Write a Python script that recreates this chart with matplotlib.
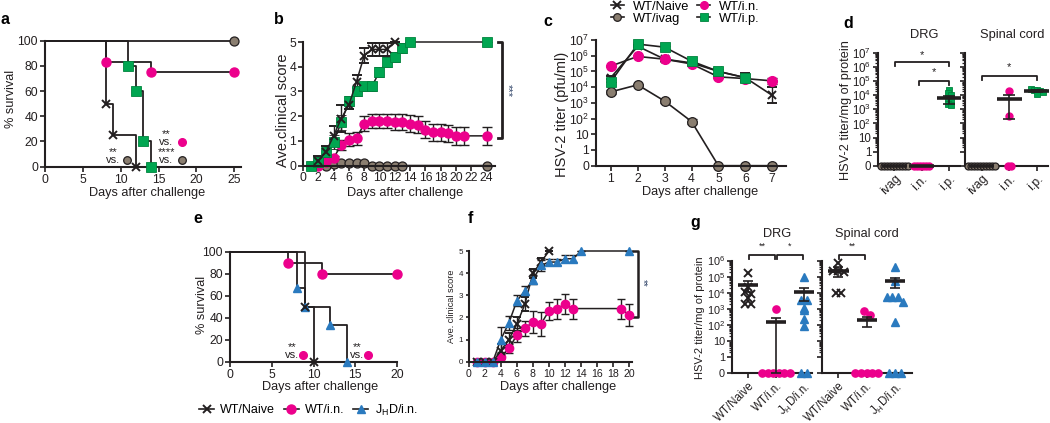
import numpy as np
import matplotlib
matplotlib.use("Agg")
import matplotlib.pyplot as plt
from matplotlib.lines import Line2D
from matplotlib.ticker import FixedLocator

plt.rcParams['font.family'] = ['Liberation Sans', 'DejaVu Sans']
plt.rcParams['mathtext.fontset'] = 'custom'
plt.rcParams['mathtext.rm'] = 'Liberation Sans'
plt.rcParams['mathtext.it'] = 'Liberation Sans:italic'
plt.rcParams['mathtext.bf'] = 'Liberation Sans:bold'

W, H = 1050, 423
INK = '#231f20'
PINK = '#ec008c'
GREEN = '#00a651'
GREY = '#8a7e70'
BLUE = '#2a7abf'

# ---------------- data ----------------
# a: survival after challenge (day of drop, % survival)
a_naive_day = [0, 8, 9, 12]
a_naive_pct = [100, 50, 25, 0]
a_ivag_day = [0, 25]
a_ivag_pct = [100, 100]
a_in_day = [0, 8, 14, 25]
a_in_pct = [100, 83.3, 75, 75]
a_ip_day = [0, 11, 12, 13, 14]
a_ip_pct = [100, 80, 60, 20, 0]

# b: average clinical score (mean, sem)
b_naive_day = list(range(2, 13))
b_naive = [0.2, 0.55, 1.2, 1.9, 2.45, 3.4, 4.45, 4.7, 4.7, 4.7, 5.0]
b_naive_sem = [0.2, 0.25, 0.4, 0.55, 0.15, 0.27, 0.3, 0.25, 0.25, 0.25, 0]
b_ivag_day = list(range(3, 14)) + [24]
b_ivag = [0, 0.07, 0.1, 0.1, 0.1, 0.1, 0, 0, 0, 0, 0, 0]
b_in_day = list(range(2, 22)) + [24]
b_in = [0, 0.14, 0.3, 0.84, 1.05, 1.1, 1.7, 1.8, 1.8, 1.8, 1.75, 1.75, 1.7,
        1.65, 1.45, 1.35, 1.35, 1.3, 1.2, 1.2, 1.2]
b_in_sem = [0, 0, 0.1, 0.2, 0.25, 0.25, 0.3, 0.3, 0.3, 0.3, 0.32, 0.32, 0.35,
            0.35, 0.35, 0.35, 0.35, 0.35, 0.35, 0.35, 0.37]
b_ip_day = list(range(1, 15)) + [24]
b_ip = [0, 0.15, 0.55, 0.95, 1.75, 2.6, 3.0, 3.2, 3.2, 3.8, 4.2, 4.4, 4.75, 5.0, 5.0]
b_ip_sem = [0, 0.2, 0.25, 0.3, 0.3, 0.2, 0.2, 0.2, 0.2, 0.2, 0.2, 0.2, 0.2, 0, 0]

# c: vaginal HSV-2 titer (pfu/ml), error as log10 half-width
c_day = [1, 2, 3, 4, 5, 6, 7]
c_naive = [4e4, 4e6, 6e5, 3.5e5, 1e5, 4e4, 3e3]
c_naive_err = [0.1, 0.05, 0.1, 0.1, 0.15, 0.3, 0.5]
c_ivag = [5e3, 1.4e4, 1.3e3, 65, 0, 0, 0]
c_ivag_err = [0.15, 0.05, 0.15, 0.15, 0, 0, 0]
c_in = [2.2e5, 9e5, 6e5, 3e5, 4.5e4, 3.5e4, 2.5e4]
c_in_err = [0, 0, 0.1, 0.1, 0.1, 0.1, 0.2]
c_ip_day = [1, 2, 3, 4, 5, 6]
c_ip = [2.2e4, 5.5e6, 3.5e6, 4.5e5, 1e5, 4e4]
c_ip_err = [0, 0.05, 0.1, 0.1, 0.15, 0.25]

# d: titer per mg protein, individual mice + mean/sem
d_groups = ['ivag', 'i.n.', 'i.p.']
d_drg_ivag = [0] * 10
d_drg_in = [0] * 6
d_drg_ip = [2.5e4, 1.5e4, 1.0e4, 6e3, 4e3, 2.5e3, 2e3]
d_drg_mean = [0, 0, 6e3]
d_drg_sem = [0, 0, 3.5e3]
d_sc_ivag = [0] * 10
d_sc_in = [2e4, 350, 0, 0]
d_sc_ip = [3e4, 2.5e4, 2.2e4, 2e4, 1.6e4, 1.2e4]
d_sc_mean = [0, 5.1e3, 2.1e4]
d_sc_sem = [0, 4.9e3, 3e3]

# e: survival
e_naive_day = [0, 9, 10]
e_naive_pct = [100, 50, 0]
e_in_day = [0, 7, 11, 20]
e_in_pct = [100, 90, 80, 80]
e_jhd_day = [0, 8, 9, 12, 14]
e_jhd_pct = [100, 66.7, 50, 33.3, 0]

# f: clinical score
f_naive_day = [1, 2, 3, 4, 5, 6, 7, 8, 9, 10]
f_naive = [0, 0, 0, 0.5, 1.0, 1.7, 2.6, 4.0, 4.5, 5.0]
f_naive_sem = [0, 0, 0, 0.3, 0.3, 0.3, 0.3, 0.2, 0.2, 0]
f_in_day = [1, 2, 3, 4, 5, 6, 7, 8, 9, 10, 11, 12, 13, 19, 20]
f_in = [0, 0, 0, 0.2, 0.6, 1.2, 1.5, 1.8, 1.7, 2.3, 2.4, 2.6, 2.4, 2.4, 2.1]
f_in_sem = [0, 0, 0, 0.1, 0.2, 0.3, 0.35, 0.5, 0.55, 0.4, 0.45, 0.45, 0.45, 0.45, 0.5]
f_jhd_day = [1, 2, 3, 4, 5, 6, 7, 8, 9, 10, 11, 12, 13, 14, 20]
f_jhd = [0, 0, 0, 1.0, 1.75, 2.75, 3.2, 3.7, 4.35, 4.5, 4.5, 4.65, 4.65, 5.0, 5.0]
f_jhd_sem = [0, 0, 0, 0.55, 0.3, 0.25, 0.2, 0.2, 0.25, 0.15, 0.15, 0.15, 0.15, 0, 0]

# g: titer per mg protein
g_groups = ['WT/Naive', 'WT/i.n.', r'J$_{\mathrm{H}}$D/i.n.']
g_drg_naive = [1.6e5, 2.4e4, 1.2e4, 9e3, 4.8e3, 2.1e3, 2.1e3]
g_drg_in = [1e3, 0, 0, 0, 0, 0, 0]
g_drg_jhd = [1e5, 3.6e3, 3.6e3, 1.1e3, 850, 235, 91, 0, 0]
g_drg_mean = [3.2e4, 143, 1.1e4]
g_drg_sem = [2e4, 143, 8e3]
g_sc_naive = [7.4e5, 2.3e5, 2.3e5, 2e5, 1e4, 1e4]
g_sc_in = [775, 420, 0, 0, 0, 0, 0]
g_sc_jhd = [4.2e5, 5.6e4, 5.7e3, 5.7e3, 5.7e3, 2.6e3, 160, 0, 0, 0]
g_sc_mean = [2.4e5, 200, 5.2e4]
g_sc_sem = [1.4e5, 120, 3.3e4]

titer_ticks = [0, 1, 10, 1e2, 1e3, 1e4, 1e5, 1e6, 1e7]
titer_labels = ['0', '1', '10'] + [r'$\mathregular{10^{%d}}$' % k for k in range(2, 8)]

# ---------------- helpers ----------------
fig = plt.figure(figsize=(W / 100, H / 100), dpi=100)


def add_ax(l, t, r, b):
    ax = fig.add_axes([l / W, 1 - b / H, (r - l) / W, (b - t) / H])
    for s in ['top', 'right']:
        ax.spines[s].set_visible(False)
    for s in ['left', 'bottom']:
        ax.spines[s].set_linewidth(1.5)
        ax.spines[s].set_color(INK)
    ax.tick_params(direction='out', length=3.5, width=1.2, color=INK,
                   labelcolor=INK, labelsize=8.8, pad=1.5)
    ax.patch.set_alpha(0)
    return ax


def ylab(ax, text, x, y, size=9.2):
    pos = ax.get_position()
    ax.set_ylabel(text, fontsize=size, va='center', color=INK)
    ax.yaxis.set_label_coords((x / W - pos.x0) / pos.width,
                              ((1 - y / H) - pos.y0) / pos.height)


def xlab(ax, text, x, y, size=9.2):
    pos = ax.get_position()
    ax.set_xlabel(text, fontsize=size, va='center', color=INK)
    ax.xaxis.set_label_coords((x / W - pos.x0) / pos.width,
                              ((1 - y / H) - pos.y0) / pos.height)


def letter(x, y, s):
    fig.text(x / W, 1 - y / H, s, fontsize=11.5, fontweight='bold',
             ha='center', va='center', color='black')


def unclip(container):
    for art in container.get_children():
        art.set_clip_on(False)


def km(ax, day, pct, **mk):
    ax.step(day, pct, where='post', color=INK, lw=1.3, clip_on=False, zorder=2)
    ax.plot(day[1:], pct[1:], ls='none', clip_on=False, zorder=3, **mk)


def versus(ax, x, y, stars, cx, cy, mk):
    # significance note: stars stacked over "vs." and a group symbol
    ax.text(x, y, stars + '\nvs.', ha='center', va='center', fontsize=8,
            linespacing=0.8, color=INK)
    ax.plot([cx], [cy], ls='none', clip_on=False, **dict(mk, ms=5.5))


def score(ax, day, val, sem, cap=3.5, **mk):
    c = ax.errorbar(day, val, yerr=sem, color=INK, lw=1.1, elinewidth=1.0,
                    capsize=cap, capthick=1.0, **mk)
    unclip(c)
    return c


def titer(ax, day, val, err, **mk):
    val = np.asarray(val, float)
    err = np.asarray(err, float)
    lo = val - val / 10 ** err
    hi = val * 10 ** err - val
    c = ax.errorbar(day, val, yerr=[lo, hi], color=INK, lw=1.2, elinewidth=1.0,
                    capsize=3.5, capthick=1.0, **mk)
    unclip(c)
    return c


def titer_axis(ax, top, labels=True, size=8.3):
    ax.set_yscale('symlog', linthresh=1, linscale=0.9)
    ax.set_ylim(0, top)
    ticks = [t for t in titer_ticks if t <= top]
    ax.set_yticks(ticks)
    if labels:
        ax.set_yticklabels(titer_labels[:len(ticks)], fontsize=size)
    else:
        ax.set_yticklabels([])


def minor_log(ax, top):
    mins = [m * 10 ** k for k in range(0, 8) for m in range(2, 10) if m * 10 ** k < top]
    ax.yaxis.set_minor_locator(FixedLocator(mins))
    ax.tick_params(axis='y', which='minor', length=2, width=0.9, color=INK)


def strip(ax, pos, vals, mean, sem, half, step, capsize, **mk):
    vals = np.asarray(vals, float)
    safe = np.where(vals > 0, vals, 1.0)
    keys = np.where(vals > 0, np.round(np.log10(safe) * 2.5), -99)
    xs = np.zeros(len(vals))
    for k in np.unique(keys):
        idx = np.where(keys == k)[0]
        xs[idx] = pos + (np.arange(len(idx)) - (len(idx) - 1) / 2) * step
    ax.plot(xs, vals, ls='none', clip_on=False, zorder=3, **mk)
    ax.plot([pos - half, pos + half], [mean, mean], color=INK, lw=2.6,
            solid_capstyle='butt', zorder=4, clip_on=False)
    if sem > 0:
        c = ax.errorbar([pos], [mean], yerr=[[min(sem, mean)], [sem]], fmt='none',
                        ecolor=INK, elinewidth=1.2, capsize=capsize, capthick=1.2,
                        zorder=4)
        unclip(c)


def bracket(ax, x1, x2, y, ytick, text, ytext, size=8):
    ax.plot([x1, x1, x2, x2], [ytick, y, y, ytick], color=INK, lw=1.3,
            clip_on=False, zorder=5)
    ax.text((x1 + x2) / 2, ytext, text, ha='center', va='center',
            fontsize=size, color=INK, clip_on=False)


naive_mk = dict(marker='x', mfc=INK, mec=INK, ms=6, mew=1.4)
ivag_mk = dict(marker='o', mfc=GREY, mec=INK, ms=6.5, mew=0.9)
in_mk = dict(marker='o', mfc=PINK, mec=PINK, ms=6.5)
ip_mk = dict(marker='s', mfc=GREEN, mec='#00843d', ms=6.5, mew=0.6)
jhd_mk = dict(marker='^', mfc=BLUE, mec=BLUE, ms=6)

# ---------------- panel a ----------------
ax = add_ax(45, 40.7, 241, 166.7)
ax.set_xlim(0, 25.9)
ax.set_ylim(0, 100)
km(ax, a_ivag_day, a_ivag_pct, **ivag_mk)
km(ax, a_in_day, a_in_pct, **in_mk)
km(ax, a_ip_day, a_ip_pct, **ip_mk)
km(ax, a_naive_day, a_naive_pct, **naive_mk)
ax.set_xticks([0, 5, 10, 15, 20, 25])
ax.set_yticks([0, 20, 40, 60, 80, 100])
ylab(ax, '% survival', 11, 99)
xlab(ax, 'Days after challenge', 147, 193)
versus(ax, 9.0, 8.5, '**', 10.8, 5.3, ivag_mk)
versus(ax, 16.0, 22.8, '**', 18.1, 19.6, in_mk)
versus(ax, 16.0, 8.5, '****', 18.1, 5.3, ivag_mk)
letter(5, 20, 'a')

# ---------------- panel b ----------------
ax = add_ax(303, 42, 495, 165.5)
ax.set_xlim(0, 25.1)
ax.set_ylim(0, 5)
score(ax, b_ivag_day, b_ivag, None, **ivag_mk)
score(ax, b_in_day, b_in, b_in_sem, **in_mk)
score(ax, b_ip_day, b_ip, b_ip_sem, **ip_mk)
score(ax, b_naive_day, b_naive, b_naive_sem, **naive_mk)
ax.set_xticks(range(0, 25, 2))
ax.set_yticks(range(0, 6))
ylab(ax, 'Ave.clinical score', 283, 110, size=10.5)
xlab(ax, 'Days after challenge', 405, 193)
ax.plot([25.5, 26.0, 26.0, 25.5], [5, 5, 1.13, 1.13], color=INK, lw=2,
        clip_on=False)
ax.text(26.8, 3.05, '***', rotation=270, ha='center', va='center', fontsize=8,
        color='#33476b', clip_on=False)
letter(279, 20, 'b')

# ---------------- panel c ----------------
ax = add_ax(596, 40, 785.7, 165.7)
ax.set_xlim(0.45, 7.5)
titer_axis(ax, 1e7, size=8.8)
titer(ax, c_day, c_naive, c_naive_err, **naive_mk)
titer(ax, c_day, c_ivag, c_ivag_err, **dict(ivag_mk, ms=7))
titer(ax, c_day, c_in, c_in_err, **dict(in_mk, ms=7))
titer(ax, c_ip_day, c_ip, c_ip_err, **dict(ip_mk, ms=7))
ax.set_xticks(c_day)
ax.tick_params(axis='y', which='minor', length=0)
ylab(ax, 'HSV-2 titer (pfu/ml)', 562, 114, size=10.5)
xlab(ax, 'Days after challenge', 700, 192)
leg_handles = [Line2D([], [], color=INK, lw=1.2, **dict(naive_mk, ms=5.5)),
               Line2D([], [], color=INK, lw=1.2, **dict(ivag_mk, ms=5.5)),
               Line2D([], [], color=INK, lw=1.2, **dict(in_mk, ms=5.5)),
               Line2D([], [], color=INK, lw=1.2, **dict(ip_mk, ms=5.5))]
fig.legend(leg_handles, ['WT/Naive', 'WT/ivag', 'WT/i.n.', 'WT/i.p.'],
           loc='upper left', bbox_to_anchor=(611 / W, 1 - 0.5 / H), ncol=2,
           frameon=False, fontsize=9.3, handlelength=1.0, handletextpad=0.7,
           columnspacing=0.6, labelspacing=0.0, borderpad=0, borderaxespad=0)
letter(548, 21, 'c')

# ---------------- panel d ----------------
ax1 = add_ax(878, 53, 960, 165.7)
ax2 = add_ax(965, 53, 1048, 165.7)
for axd in (ax1, ax2):
    axd.set_xlim(-0.6, 2.4)
    titer_axis(axd, 1e7, labels=axd is ax1, size=8.3)
    minor_log(axd, 1e7)
    axd.set_xticks([0, 1, 2])
    axd.set_xticklabels(d_groups, rotation=45, ha='right', rotation_mode='anchor',
                        fontsize=8.8)
for axd, vals, mean, sem in [(ax1, (d_drg_ivag, d_drg_in, d_drg_ip), d_drg_mean, d_drg_sem),
                             (ax2, (d_sc_ivag, d_sc_in, d_sc_ip), d_sc_mean, d_sc_sem)]:
    for i, (v, mk) in enumerate(zip(vals, (ivag_mk, in_mk, ip_mk))):
        strip(axd, i, v, mean[i], sem[i], 0.45, 0.11, 4.5, **dict(mk, ms=5))
bracket(ax1, 0.02, 2.0, 2.2e6, 1.2e6, '*', 7e6)
bracket(ax1, 0.9, 2.0, 1.0e5, 5.5e4, '*', 4.4e5)
bracket(ax2, 0.0, 2.0, 2.3e5, 1.3e5, '*', 1e6)
ax1.set_title('DRG', fontsize=9.3, color=INK, pad=11, x=0.57)
ax2.set_title('Spinal cord', fontsize=9.3, color=INK, pad=11, x=0.57)
ylab(ax1, 'HSV-2 titer/mg of protein', 846, 110)
letter(848, 23, 'd')

# ---------------- panel e ----------------
ax = add_ax(230, 251.7, 397, 361.7)
ax.set_xlim(0, 20)
ax.set_ylim(0, 100)
km(ax, e_in_day, e_in_pct, **in_mk)
km(ax, e_jhd_day, e_jhd_pct, **jhd_mk)
km(ax, e_naive_day, e_naive_pct, **naive_mk)
ax.set_xticks([0, 5, 10, 15, 20])
ax.set_yticks([0, 20, 40, 60, 80, 100])
ylab(ax, '% survival', 202, 305)
xlab(ax, 'Days after challenge', 320, 387)
versus(ax, 7.45, 9.6, '**', 8.8, 6.1, in_mk)
versus(ax, 15.25, 9.6, '**', 16.5, 6.1, in_mk)
fig.legend([Line2D([], [], color=INK, lw=1.2, **naive_mk),
            Line2D([], [], color=INK, lw=1.2, **in_mk),
            Line2D([], [], color=INK, lw=1.2, **jhd_mk)],
           ['WT/Naive', 'WT/i.n.', r'J$_{\mathrm{H}}$D/i.n.'],
           loc='center left', bbox_to_anchor=(199 / W, 1 - 410 / H), ncol=3,
           frameon=False, fontsize=9, handlelength=1.2, handletextpad=0.5,
           columnspacing=0.7, borderpad=0, borderaxespad=0)
letter(198, 218, 'e')

# ---------------- panel f ----------------
ax = add_ax(468.7, 251, 631.7, 361.7)
ax.set_xlim(0, 20.3)
ax.set_ylim(0, 5)
score(ax, f_in_day, f_in, f_in_sem, cap=3, **dict(in_mk, ms=6))
score(ax, f_naive_day, f_naive, f_naive_sem, cap=3, **dict(naive_mk, ms=5.5))
score(ax, f_jhd_day, f_jhd, f_jhd_sem, cap=3, **dict(jhd_mk, ms=5.5))
ax.set_xticks(range(0, 21, 2))
ax.set_yticks(range(0, 6))
ax.tick_params(axis='x', labelsize=7.6)
ax.tick_params(axis='y', labelsize=5.8, length=2.5)
ylab(ax, 'Ave. clinical score', 452, 306, size=6.6)
xlab(ax, 'Days after challenge', 558, 387)
ax.plot([20.5, 21.1, 21.1, 20.5], [5, 5, 2.03, 2.03], color=INK, lw=1.8,
        clip_on=False)
ax.text(21.7, 3.55, '**', rotation=270, ha='center', va='center', fontsize=7,
        color='#33476b', clip_on=False)
letter(470, 218, 'f')

# ---------------- panel g ----------------
gx1 = add_ax(732, 260.6, 812, 373.3)
gx2 = add_ax(821.7, 260.6, 911.7, 373.3)
gx1.set_xlim(-0.57, 2.29)
gx2.set_xlim(-0.59, 2.59)
for axg in (gx1, gx2):
    titer_axis(axg, 1e6, labels=axg is gx1, size=7.8)
    minor_log(axg, 1e6)
    axg.set_xticks([0, 1, 2])
    axg.set_xticklabels(g_groups, rotation=45, ha='right', rotation_mode='anchor',
                        fontsize=8.3)
for axg, vals, mean, sem in [(gx1, (g_drg_naive, g_drg_in, g_drg_jhd), g_drg_mean, g_drg_sem),
                             (gx2, (g_sc_naive, g_sc_in, g_sc_jhd), g_sc_mean, g_sc_sem)]:
    for i, (v, mk) in enumerate(zip(vals, (naive_mk, in_mk, jhd_mk))):
        strip(axg, i, v, mean[i], sem[i], 0.36, 0.2, 3.6, **dict(mk, ms=5.2))
bracket(gx1, 0.03, 0.97, 2.2e6, 1.2e6, '**', 8e6, size=6.5)
bracket(gx1, 1.03, 1.97, 2.2e6, 1.2e6, '*', 8e6, size=6.5)
bracket(gx2, 0.03, 0.95, 2.2e6, 1.2e6, '**', 8e6, size=6.5)
gx1.set_title('DRG', fontsize=9.2, color=INK, pad=17, x=0.56)
gx2.set_title('Spinal cord', fontsize=9.2, color=INK, pad=17)
ylab(gx1, 'HSV-2 titer/mg of protein', 700, 318, size=8)
letter(695, 222, 'g')

fig.savefig('out.png', dpi=100)
